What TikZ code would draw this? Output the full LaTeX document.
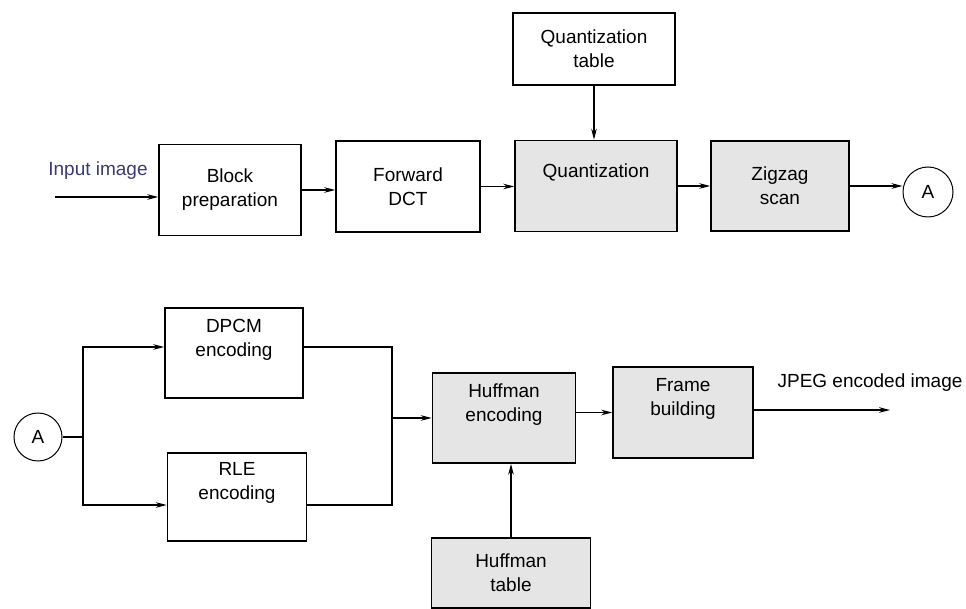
\documentclass[tikz,border=0pt]{standalone}
\usepackage{fontspec}
\setmainfont{Liberation Sans}
\usetikzlibrary{arrows.meta}
\definecolor{inblue}{RGB}{58,58,120}
\begin{document}
\begin{tikzpicture}[x=0.5pt,y=-0.5pt,
    font=\fontsize{9.5}{12}\selectfont,
    box/.style={draw,line width=0.8pt,align=center,inner sep=0pt},
    shade/.style={box,fill=black!10},
    conn/.style={draw,circle,line width=0.5pt,minimum size=25pt,inner sep=0pt},
    arr/.style={-{Stealth[length=5.5pt,width=2.8pt]},line width=0.6pt}]
  \useasboundingbox (0,0) rectangle (966,609);

  % top row
  \node[box,minimum width=71pt,minimum height=45.5pt] (blk) at (230,190) {Block\\preparation};
  \node[box,minimum width=72pt,minimum height=45.5pt] (fdct) at (408,186.5) {Forward\\DCT};
  \node[shade,minimum width=81pt,minimum height=45.5pt] (quant) at (596,186) {Quantization\\ \strut};
  \node[box,minimum width=81pt,minimum height=36pt] (qtab) at (594,49) {Quantization\\table};
  \node[shade,minimum width=69pt,minimum height=45pt] (zz) at (780,186) {Zigzag\\scan};
  \node[conn] (a1) at (928,192) {A};
  \node[text=inblue] (inlbl) at (98,171) {Input image};
  \coordinate (in) at (55,197);

  % bottom row
  \node[conn,minimum size=24pt] (a2) at (38,437) {A};
  \node[box,minimum width=69pt,minimum height=45pt] (dpcm) at (234,353) {DPCM\\encoding\\ \strut};
  \node[box,minimum width=69.5pt,minimum height=44pt] (rle) at (237,497) {RLE\\encoding\\ \strut};
  \node[shade,minimum width=71.5pt,minimum height=45pt] (henc) at (504,418) {Huffman\\encoding\\ \strut};
  \node[shade,minimum width=70pt,minimum height=45.5pt] (frame) at (683,412.5) {Frame\\building\\ \strut};
  \node[shade,minimum width=79.5pt,minimum height=35pt] (htab) at (511,573) {Huffman\\table};
  \node (jpeg) at (870,383) {JPEG encoded image};
  \coordinate (out) at (890,410);
  \coordinate (split) at (83,437);
  \coordinate (mrg) at (392,418);

  \draw[arr] (in) -- (in -| blk.west);
  \draw[arr] (blk.east) -- (blk.east -| fdct.west);
  \draw[arr] (fdct.east) -- (fdct.east -| quant.west);
  \draw[arr] (qtab.south) -- (qtab.south |- quant.north);
  \draw[arr] (quant.east) -- (quant.east -| zz.west);
  \draw[arr] (zz.east) -- (zz.east -| a1.west);

  \draw[line width=0.6pt] (a2) -- (split);
  \draw[arr] (split) |- ([yshift=3pt]dpcm.west);
  \draw[arr] (split) |- ([yshift=-4pt]rle.west);
  \draw[line width=0.6pt] ([yshift=3pt]dpcm.east) -| (mrg) |- ([yshift=-4pt]rle.east);
  \draw[arr] (mrg) -- (henc.west);
  \draw[arr] (frame.west -| henc.east) -- (frame.west);
  \draw[arr] (out -| frame.east) -- (out);
  \draw[arr] (htab.north) -- (htab.north |- henc.south);
\end{tikzpicture}
\end{document}
